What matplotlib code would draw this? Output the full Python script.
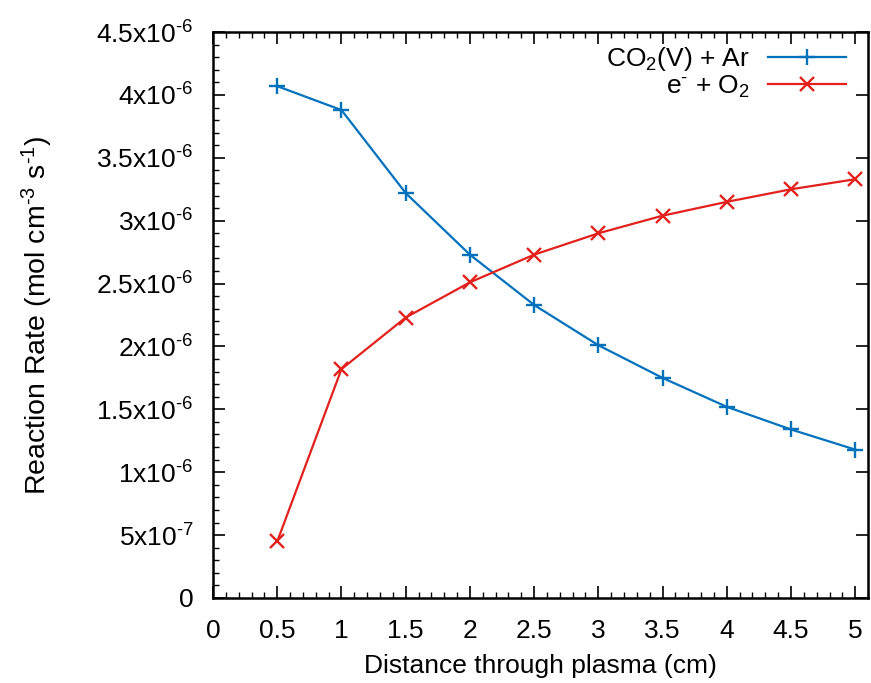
import matplotlib
matplotlib.use("Agg")
import matplotlib.pyplot as plt
from matplotlib.ticker import MultipleLocator, FuncFormatter

plt.rcParams["font.family"] = ["Liberation Sans", "DejaVu Sans"]
plt.rcParams["mathtext.fontset"] = "custom"
plt.rcParams["mathtext.rm"] = "Liberation Sans"
plt.rcParams["mathtext.it"] = "Liberation Sans"
plt.rcParams["mathtext.default"] = "rm"

# ── data ──────────────────────────────────────────────────────────────────────
distance = [0.5, 1.0, 1.5, 2.0, 2.5, 3.0, 3.5, 4.0, 4.5, 5.0]
co2v_ar = [4.07e-6, 3.88e-6, 3.22e-6, 2.73e-6, 2.33e-6, 2.01e-6, 1.75e-6, 1.52e-6, 1.34e-6, 1.18e-6]
e_o2 = [0.45e-6, 1.82e-6, 2.23e-6, 2.51e-6, 2.73e-6, 2.90e-6, 3.04e-6, 3.15e-6, 3.25e-6, 3.33e-6]

series_labels = [r"CO$_2$(V) + Ar", r"e$^{\text{-}}$ + O$_2$"]
x_label = "Distance through plasma (cm)"
y_label = r"Reaction Rate (mol cm$^{\text{-}3}$ s$^{\text{-}1}$)"

FS = 19


def _ylab(v, _):
    if abs(v) < 1e-12:
        return "0"
    exp = 0
    m = v
    while abs(m) < 1 - 1e-9:
        m *= 10
        exp -= 1
    ms = f"{m:g}"
    return ms + r"x10$^{\text{-}" + str(-exp) + "}$"


fig = plt.figure(figsize=(8.71, 6.83), dpi=100)
ax = fig.add_axes([0.2446, 0.1245, 0.752, 0.8285])

ax.plot(distance, co2v_ar, color="#0072bd", marker="+", markersize=11,
        markeredgewidth=1.7, linewidth=1.6, label=series_labels[0])
ax.plot(distance, e_o2, color="#e3211c", marker="x", markersize=10,
        markeredgewidth=1.7, linewidth=1.6, label=series_labels[1])

ax.set_xlim(0, 5.1)
ax.set_ylim(0, 4.5e-6)
ax.xaxis.set_major_locator(MultipleLocator(0.5))
ax.xaxis.set_minor_locator(MultipleLocator(0.1))
ax.yaxis.set_major_locator(MultipleLocator(0.5e-6))
ax.yaxis.set_minor_locator(MultipleLocator(0.1e-6))
ax.xaxis.set_major_formatter(FuncFormatter(lambda v, _: f"{v:g}"))
ax.yaxis.set_major_formatter(FuncFormatter(_ylab))

ax.tick_params(axis="both", which="major", direction="in", length=8.5, width=1.2,
               labelsize=FS, top=True, right=True)
ax.tick_params(axis="x", which="major", pad=15)
ax.tick_params(axis="y", which="major", pad=14)
ax.tick_params(axis="both", which="minor", direction="in", length=4.5, width=1.0,
               top=True, right=False)
for s in ax.spines.values():
    s.set_linewidth(1.8)

ax.set_xlabel(x_label, fontsize=FS, labelpad=8)
ax.set_ylabel(y_label, fontsize=20.5, labelpad=30)

ax.legend(loc="upper right", frameon=False, markerfirst=False, fontsize=FS,
          handlelength=2.95, handletextpad=0.68, labelspacing=0.0,
          borderaxespad=0.0, bbox_to_anchor=(0.982, 0.995))

fig.savefig("out.png", dpi=100)
